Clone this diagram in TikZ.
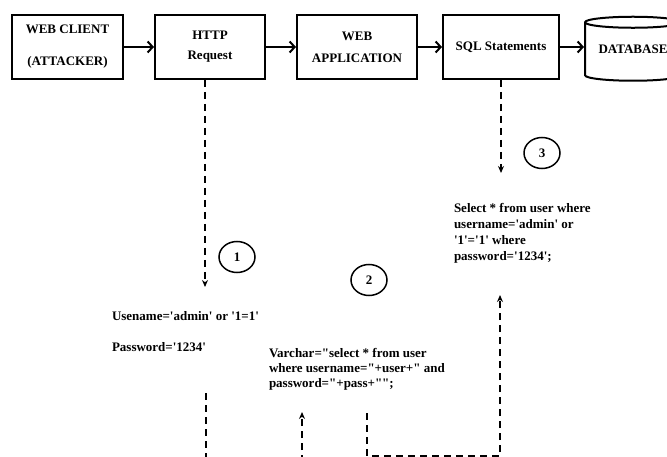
\documentclass[tikz,border=0pt]{standalone}
\usepackage{fontspec}
\setmainfont{Liberation Serif}[Ligatures=TeXOff]
\usetikzlibrary{arrows.meta,shapes.geometric}

\begin{document}
\begin{tikzpicture}[x=1pt, y=-1pt, line width=2pt,
    font=\fontsize{13}{16}\selectfont\bfseries,
    blk/.style={draw, rectangle, minimum height=64pt, align=center, inner sep=0pt},
    flow/.style={-{Straight Barb[length=5pt,width=11pt]}},
    dsh/.style={dash pattern=on 7pt off 5pt},
    dsharrow/.style={dsh, -{Stealth[length=7pt,width=6pt]}},
    num/.style={draw, ellipse, line width=1.5pt, minimum width=36pt, minimum height=31pt, inner sep=0pt},
    txt/.style={anchor=north west, align=left, inner sep=0pt}]
  \useasboundingbox (0,0) rectangle (667,457);
  \clip (0,0) rectangle (667,457);
  \node[blk, minimum width=111pt] (client) at (67.5,47) {WEB CLIENT\\[16pt](ATTACKER)};
  \node[blk, minimum width=110pt] (http) at (210,47) {HTTP\\[4pt]Request};
  \node[blk, minimum width=120pt] (webapp) at (357,47) {WEB\\[6pt]APPLICATION};
  \node[blk, minimum width=116pt] (sql) at (501,47) {SQL Statements};
  \node[draw, cylinder, shape border rotate=90, aspect=0.16, minimum width=96pt,
        minimum height=64pt, inner sep=0pt] (db) at (633,52) {\raisebox{5pt}{DATABASE}};
  \draw[flow] (client.east) -- (http.west);
  \draw[flow] (http.east) -- (webapp.west);
  \draw[flow] (webapp.east) -- (sql.west);
  \draw[flow] (sql.east) -- (db.west |- sql.east);

  \node[num] (n1) at (237,257) {1};
  \node[num] (n2) at (369,280) {2};
  \node[num] (n3) at (542,153) {3};

  \node[txt] (cred) at (111,310) {Usename='admin' or '1=1'\\[15pt]Password='1234'};
  \node[txt, font=\fontsize{13}{15}\selectfont\bfseries] (code) at (268,347)
    {Varchar="select * from user\\where username="+user+" and\\password="+pass+"";};
  \node[txt] (query) at (453,202)
    {Select * from user where\\username='admin' or\\'1'='1' where\\password='1234';};

  \coordinate (a1) at (205,287);
  \coordinate (a2) at (501,173);
  \coordinate (l0) at (206,393);
  \coordinate (l1) at (206,462);
  \coordinate (u0) at (302,462);
  \coordinate (u1) at (302,412);
  \coordinate (b0) at (367,413);
  \coordinate (b1) at (500,456);
  \coordinate (b2) at (500,295);
  \draw[dsharrow] (http.south -| a1) -- (a1);
  \draw[dsharrow] (sql.south -| a2) -- (a2);
  \draw[dsh] (l0) -- (l1);
  \draw[dsharrow] (u0) -- (u1);
  \draw[dsharrow] (b0) |- (b1) -- (b2);
\end{tikzpicture}
\end{document}
